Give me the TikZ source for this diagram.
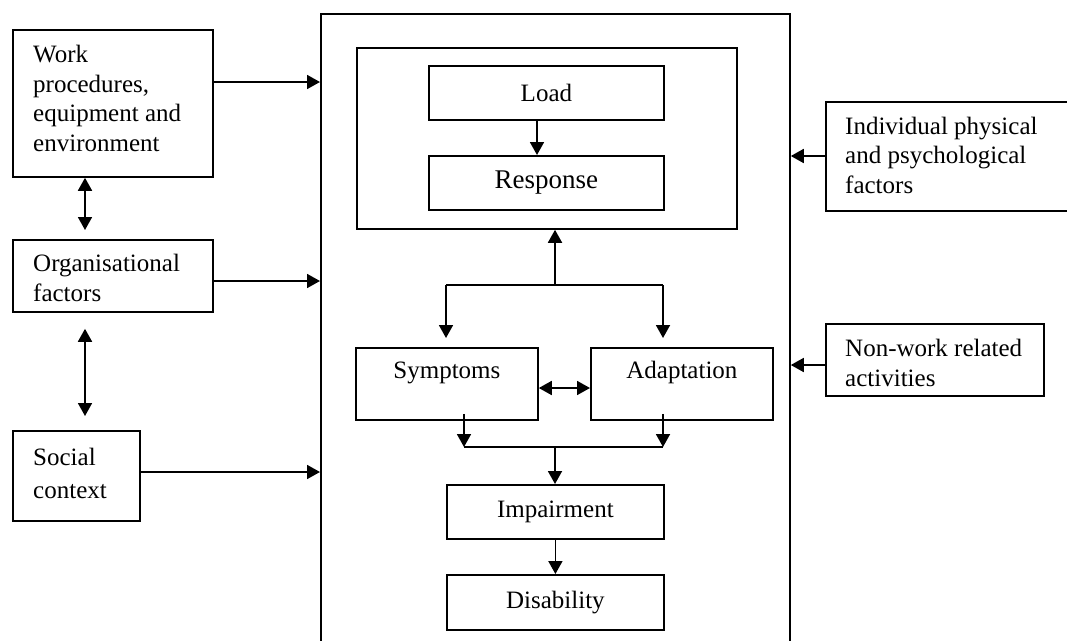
\documentclass[tikz,border=0pt]{standalone}
\usepackage{fontspec}
\setmainfont{Liberation Serif}
\usetikzlibrary{arrows.meta}
\begin{document}
\begin{tikzpicture}[x=1pt,y=-1pt,
 box/.style={draw, line width=1.8pt, inner sep=0pt, anchor=north west},
 txt/.style={font=\fontsize{25}{29.5}\selectfont},
 ln/.style={line width=1.8pt},
 arr/.style={line width=1.8pt, -{Triangle[length=13pt,width=14pt]}},
 darr/.style={line width=1.8pt, {Triangle[length=13pt,width=14pt]}-{Triangle[length=13pt,width=14pt]}}]
\useasboundingbox (0,0) rectangle (1067,640);
\clip (0,0) rectangle (1067,640);
% main frame and inner group
\node[box, minimum width=469pt, minimum height=660pt] (main) at (320,13) {};
\node[box, minimum width=380pt, minimum height=181pt] (inner) at (356,47) {};
\node[box, txt, minimum width=235pt, minimum height=54pt] (load) at (428,65) {Load};
\node[box, minimum width=235pt, minimum height=54pt, font=\fontsize{27}{32}\selectfont] (resp) at (428,155) {Response};
\node[box, minimum width=182pt, minimum height=72pt] (symp) at (355,347) {};
\node[txt, anchor=base] (sympt) at ([yshift=-31pt]symp.north) {Symptoms};
\node[box, minimum width=182pt, minimum height=72pt] (adapt) at (590,347) {};
\node[txt, anchor=base] (adaptt) at ([yshift=-31pt]adapt.north) {Adaptation};
\node[box, txt, minimum width=217pt, minimum height=54pt] (imp) at (446,484) {Impairment};
\node[box, txt, minimum width=217pt, minimum height=55pt] (dis) at (446,574) {Disability};
% left boxes
\node[box, minimum width=200pt, minimum height=147pt] (work) at (12,29) {};
\node[txt, anchor=west, align=left, inner sep=0pt] (workt) at ([xshift=21pt,yshift=5pt]work.west) {Work\\procedures,\\equipment and\\environment};
\node[box, minimum width=200pt, minimum height=72pt] (org) at (12,239) {};
\node[txt, anchor=west, align=left, inner sep=0pt] (orgt) at ([xshift=21pt,yshift=-2pt]org.west) {Organisational\\factors};
\node[box, minimum width=127pt, minimum height=90pt] (soc) at (12,430) {};
\node[anchor=west, align=left, inner sep=0pt, font=\fontsize{25}{33}\selectfont] (soct) at ([xshift=21pt,yshift=2pt]soc.west) {Social\\context};
% right boxes
\node[box, minimum width=260pt, minimum height=109pt] (indiv) at (825,101) {};
\node[txt, anchor=west, align=left, inner sep=0pt] (indivt) at ([xshift=20pt,yshift=1pt]indiv.west) {Individual physical\\and psychological\\factors};
\node[box, minimum width=218pt, minimum height=72pt] (nonw) at (825,323) {};
\node[txt, anchor=west, align=left, inner sep=0pt] (nonwt) at ([xshift=20pt,yshift=-3pt]nonw.west) {Non-work related\\activities};
% junction coordinates
\coordinate (j1) at (555,285);
\coordinate (j1l) at (446,285);
\coordinate (j1r) at (663,285);
\coordinate (j2) at (555,447);
\coordinate (j2l) at (464,447);
\coordinate (j2r) at (663,447);
% inputs to main frame
\draw[arr] (work.east |- 0,82) -- (main.west |- 0,82);
\draw[arr] (org.east |- 0,281) -- (main.west |- 0,281);
\draw[arr] (soc.east |- 0,472) -- (main.west |- 0,472);
\draw[arr] (indiv.west |- 0,156) -- (main.east |- 0,156);
\draw[arr] (nonw.west |- 0,365) -- (main.east |- 0,365);
\draw[darr, shorten >=9pt] (work.south -| 85,0) -- (org.north -| 85,0);
\draw[darr, shorten <=16pt, shorten >=14pt] (org.south -| 85,0) -- (soc.north -| 85,0);
% inner flow
\draw[arr] (load.south -| 537,0) -- (resp.north -| 537,0);
\draw[arr] (j1) -- (inner.south -| j1);
\draw[ln] (j1l) -- (j1r);
\draw[arr, shorten >=9pt] (j1l) -- (symp.north -| j1l);
\draw[arr, shorten >=9pt] (j1r) -- (adapt.north -| j1r);
\draw[darr] (symp.east |- 0,388) -- (adapt.west |- 0,388);
\draw[arr] (symp.south -| j2l) ++(0,-7) -- (j2l);
\draw[arr] (adapt.south -| j2r) ++(0,-7) -- (j2r);
\draw[ln] (j2l) -- (j2r);
\draw[arr] (j2) -- (imp.north -| j2);
\draw[arr] (imp.south) -- (dis.north);
\end{tikzpicture}
\end{document}
